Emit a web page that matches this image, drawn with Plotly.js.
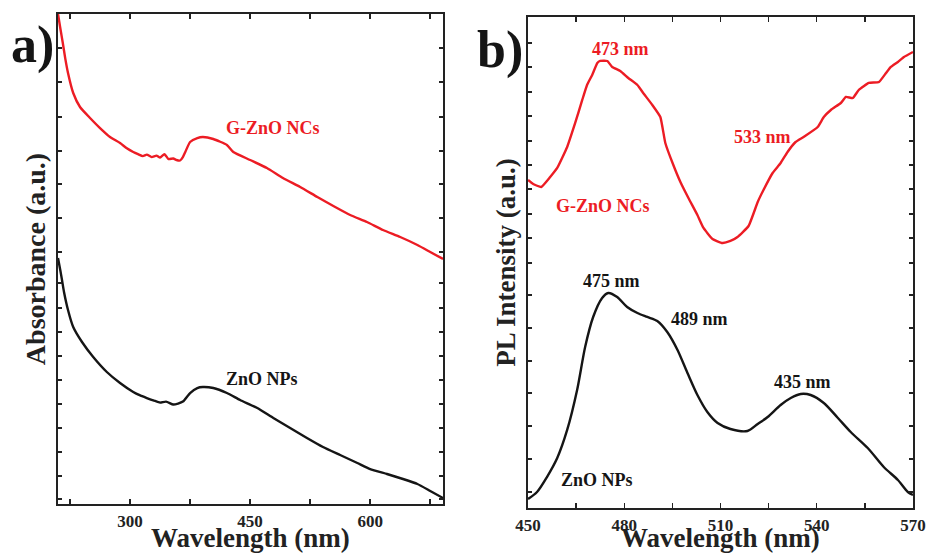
<!DOCTYPE html>
<html>
<head>
<meta charset="utf-8">
<script src="https://cdn.plot.ly/plotly-3.0.1.min.js"></script>
<style>html,body{margin:0;padding:0;background:#fff;}#chart{width:928px;height:553px;}</style>
</head>
<body>
<div id="chart"></div>
<script>
// ---- Panel a) UV-Vis absorbance ----
const absWavelengthRed = [210,213,216,219,222.5,229,237.5,250,262.5,275,287.5,296,304,310,316,321,327,333,337.5,343,348,354,358,362.5,366,369,375,384,391,404,421,429,450,471,491,512.5,534,554,575,596,616,637.5,659,675,691];
const absGZnO = [100,97.0,94.08,91.0,87.96,83.88,81.02,78.78,76.73,74.90,73.67,72.6,71.84,71.4,71.0,71.3,70.8,71.1,70.7,71.4,70.4,70.5,70.2,70.1,70.8,71.84,73.88,74.69,74.90,74.49,73.27,71.84,70.20,68.57,66.53,64.69,62.65,60.82,58.98,57.55,55.92,54.49,52.86,51.43,50.0];
const absWavelengthBlack = [210,213,215,217.5,222.5,229,240,254,271,287.5,304,312,321,330,337.5,345,354,360,366,375,384,391,404,421,437.5,459,479,500,521,541,562.5,584,600,621,641,659,675,691];
const absZnO = [50.20,47.6,45.71,43.27,39.59,36.12,33.06,30.0,26.94,24.69,22.86,22.2,21.63,21.1,20.7,20.9,20.3,20.5,20.9,22.65,23.67,23.88,23.67,22.65,21.22,19.59,17.55,15.51,13.47,11.63,10.0,8.37,7.14,6.12,5.10,4.08,2.65,1.22];
const absYTicks = [93.06,86.12,78.98,72.04,65.31,58.37,51.43,45.10,40.0,35.10,30.20,25.31,20.41,15.51,10.61,5.71,1.02];
const absXTicks = [300,450,600];

// ---- Panel b) PL spectra ----
const plWavelengthRed = [450,451.6,454.1,456.9,459.1,462.2,464.7,466.9,468.4,470,471.6,472.5,474.7,476.25,478.75,481.25,484.1,485.9,488.75,491.25,492.8,495.3,497.5,500,502.8,504.7,507.5,510.6,513.1,515.3,518.75,521.6,523.4,526.25,528.75,530.9,533.4,535.9,540.3,542.2,544.4,547.5,549.1,551.25,553.1,556.25,559.4,561.6,563.1,565.3,567.2,570];
const plGZnO = [66.80,65.99,65.38,67.41,69.25,73.52,78.41,83.10,86.15,88.19,90.63,91.04,91.04,89.82,89.00,87.58,86.15,84.52,82.08,79.63,74.34,69.86,66.40,63.14,59.67,57.03,54.79,53.97,54.38,55.19,57.43,62.32,64.77,68.23,70.26,72.51,74.54,75.56,77.60,79.63,81.06,82.48,83.71,83.50,85.13,86.56,86.76,88.59,89.82,90.84,91.85,92.87];
const plWavelengthBlack = [450,452.8,455.9,459.1,462.2,465.3,467.8,470.3,473.1,475,477.8,480.9,484.1,487.2,490.3,493.4,496.6,499.7,502.8,505.9,509.1,513.1,518.4,521.6,524.7,528.75,531.9,535,538.1,542.2,546.6,550.6,555.9,560.9,565.3,568.4,570];
const plZnO = [1.83,3.26,6.31,10.18,15.89,24.03,32.79,38.90,42.77,43.79,42.97,40.94,39.71,38.90,38.09,35.85,32.18,27.49,23.01,19.55,17.31,16.09,15.68,17.11,18.53,20.98,22.40,23.22,23.01,21.38,18.33,15.48,12.22,8.35,5.70,3.26,2.65];
const plYTicks = [94.70,89.82,84.73,79.84,74.75,69.86,64.97,59.88,54.99,49.90,43.38,36.66,29.94,23.42,16.70,9.98,3.26];
const plXTicks = [450,480,510,540,570];

// ---- Labels ----
const panelLabels = ['a)','b)'];
const xTitle = 'Wavelength (nm)';
const seriesNames = ['G-ZnO NCs','ZnO NPs'];
const peakLabelsRed = ['473 nm','533 nm'];
const peakLabelsBlack = ['475 nm','489 nm','435 nm'];

const RED = '#ec1c24', BLACK = '#151515', AX = '#222222';
const SERIF = '"Liberation Serif", "Times New Roman", serif';

const traces = [
  {x: absWavelengthRed, y: absGZnO, xaxis:'x', yaxis:'y', mode:'lines', line:{color:RED, width:2.4, shape:'spline', smoothing:0.5}, name:seriesNames[0]},
  {x: absWavelengthBlack, y: absZnO, xaxis:'x', yaxis:'y', mode:'lines', line:{color:BLACK, width:2.4, shape:'spline', smoothing:0.5}, name:seriesNames[1]},
  {x: plWavelengthRed, y: plGZnO, xaxis:'x2', yaxis:'y2', mode:'lines', line:{color:RED, width:2.4, shape:'spline', smoothing:0.4}, name:seriesNames[0]},
  {x: plWavelengthBlack, y: plZnO, xaxis:'x2', yaxis:'y2', mode:'lines', line:{color:BLACK, width:2.4, shape:'spline', smoothing:0.8}, name:seriesNames[1]}
];

function xax(domain, range, ticks, minorTick0, minorDtick, anchor){
  return {
    domain: domain, range: range, anchor: anchor,
    tickmode:'array', tickvals: ticks, ticktext: ticks.map(String),
    ticks:'inside', ticklen:5, tickwidth:1.5, tickcolor:AX,
    minor:{ticks:'inside', tickmode:'linear', tick0:minorTick0, dtick:minorDtick, ticklen:5, tickwidth:1.5, tickcolor:AX},
    showline:true, linecolor:AX, linewidth:2.2, mirror:'ticks',
    showgrid:false, zeroline:false,
    tickfont:{family:SERIF, size:17, color:AX, weight:'bold'}
  };
}
function yax(domain, ticks, anchor, titleText, titleSize, standoff){
  return {
    domain: domain, range:[0,100], anchor: anchor,
    tickmode:'array', tickvals: ticks, showticklabels:false,
    ticks:'inside', ticklen:4, tickwidth:1.5, tickcolor:AX,
    showline:true, linecolor:AX, linewidth:2.2, mirror:'ticks',
    showgrid:false, zeroline:false,
    title:{text:titleText, font:{family:SERIF, size:titleSize, color:AX, weight:'bold'}, standoff:standoff}
  };
}

function note(xref, yref, x, y, text, color){
  return {xref:xref, yref:yref, x:x, y:y, text:text, showarrow:false, xanchor:'center', yanchor:'middle',
          font:{family:SERIF, size:18, color:color, weight:'bold'}};
}
function xTitleNote(xref){
  return {xref:xref+' domain', yref:'paper', x:0.5, y:1-538/553, text:xTitle, showarrow:false, xanchor:'center', yanchor:'middle',
          font:{family:SERIF, size:27, color:AX, weight:'bold'}};
}

const layout = {
  width:928, height:553,
  margin:{l:0,r:0,t:0,b:0},
  paper_bgcolor:'#fff', plot_bgcolor:'#fff',
  showlegend:false,
  xaxis: xax([0.0625,0.4774],[210,691],absXTicks,225,150,'y'),
  yaxis: yax([0.0886,0.9747],absYTicks,'x','Absorbance (a.u.)',28,2),
  xaxis2: xax([0.5690,0.9838],[450,570],plXTicks,465,30,'y2'),
  yaxis2: yax([0.0814,0.9693],plYTicks,'x2','PL Intensity (a.u.)',27,2),
  annotations: [
    {xref:'paper', yref:'paper', x:32/928, y:1-45/553, xanchor:'center', yanchor:'middle', text:panelLabels[0], showarrow:false, font:{family:SERIF, size:52, color:BLACK, weight:'bold'}},
    {xref:'paper', yref:'paper', x:500/928, y:1-50/553, xanchor:'center', yanchor:'middle', text:panelLabels[1], showarrow:false, font:{family:SERIF, size:52, color:BLACK, weight:'bold'}},
    xTitleNote('x'),
    xTitleNote('x2'),
    note('x','y',478.75,76.8,seriesNames[0],RED),
    note('x','y',464.4,25.5,seriesNames[1],BLACK),
    note('x2','y2',478.9,93.5,peakLabelsRed[0],RED),
    note('x2','y2',523.0,75.5,peakLabelsRed[1],RED),
    note('x2','y2',473.3,61.5,seriesNames[0],RED),
    note('x2','y2',475.9,46.2,peakLabelsBlack[0],BLACK),
    note('x2','y2',503.6,38.5,peakLabelsBlack[1],BLACK),
    note('x2','y2',535.5,25.7,peakLabelsBlack[2],BLACK),
    note('x2','y2',471.4,5.8,seriesNames[1],BLACK)
  ]
};

Plotly.newPlot('chart', traces, layout, {staticPlot:true, displayModeBar:false});
</script>
</body>
</html>
